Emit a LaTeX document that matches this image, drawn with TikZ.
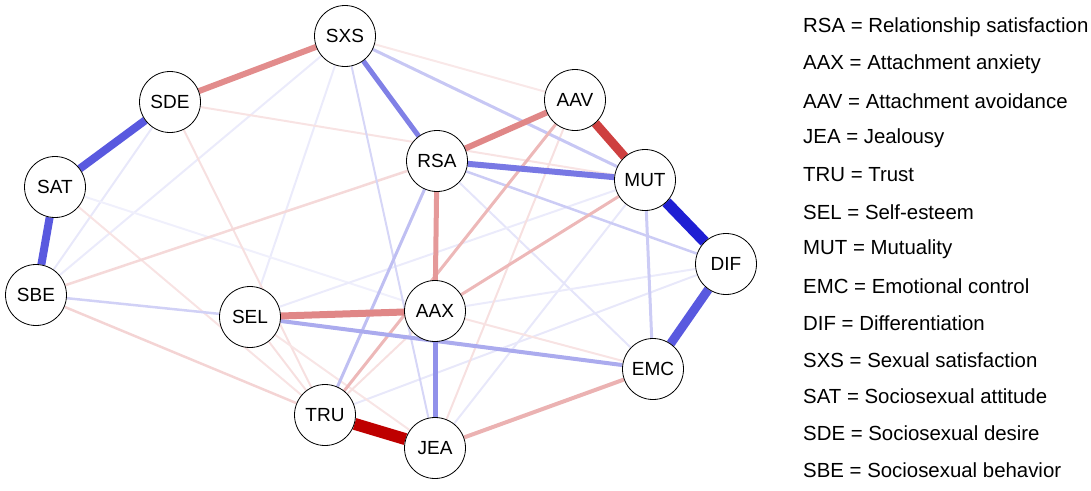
\documentclass[tikz,border=0pt]{standalone}
\usepackage{fontspec}
\setmainfont{Liberation Sans}
\usetikzlibrary{backgrounds}
\definecolor{posc}{RGB}{0,0,205}
\definecolor{negc}{RGB}{190,0,0}
\tikzset{
	var/.style={circle, draw, line width=0.8pt, fill=white, minimum size=61pt, inner sep=0pt, font=\fontsize{19}{19}\selectfont},
	pos/.style={draw=posc!#1!white},
	neg/.style={draw=negc!#1!white},
	key/.style={anchor=west, inner sep=0pt, font=\fontsize{20.4}{20.4}\selectfont},
}
\begin{document}
\begin{tikzpicture}[x=1pt,y=-1pt]
		\useasboundingbox (0,0) rectangle (1091,490);
		% variables
			\node [var] (SXS) at (345,36) {SXS};
			\node [var] (SDE) at (170,102) {SDE};
			\node [var] (SAT) at (55,187) {SAT};
			\node [var] (SBE) at (36,295) {SBE};
			\node [var] (SEL) at (250,317) {SEL};
			\node [var] (RSA) at (437,161) {RSA};
			\node [var] (AAV) at (575,100) {AAV};
			\node [var] (MUT) at (645,180) {MUT};
			\node [var] (DIF) at (726,264) {DIF};
			\node [var] (AAX) at (435,311) {AAX};
			\node [var] (EMC) at (653,369) {EMC};
			\node [var] (TRU) at (325,415) {TRU};
			\node [var] (JEA) at (435,448) {JEA};
		\begin{scope}[on background layer]
		% faint edges
			\draw [pos=9, line width=2pt] (SDE) -- (SBE);
			\draw [pos=8, line width=2pt] (SXS) -- (SBE);
			\draw [pos=8, line width=2pt] (SXS) -- (SEL);
			\draw [pos=6, line width=2pt] (SAT) -- (AAX);
			\draw [pos=9, line width=2pt] (JEA) -- (MUT);
			\draw [pos=9, line width=2pt] (TRU) -- (DIF);
			\draw [pos=10, line width=2pt] (RSA) -- (EMC);
			\draw [pos=8, line width=2pt] (AAX) -- (DIF);
			\draw [pos=8, line width=2pt] (SEL) -- (MUT);
			\draw [neg=11, line width=2pt] (SAT) -- (TRU);
			\draw [neg=11, line width=2pt] (SDE) -- (MUT);
			\draw [neg=12, line width=2pt] (SDE) -- (TRU);
			\draw [neg=9, line width=2pt] (SXS) -- (AAV);
			\draw [neg=12, line width=2pt] (AAV) -- (JEA);
			\draw [neg=11, line width=2pt] (AAX) -- (EMC);
			\draw [neg=12, line width=2pt] (SEL) -- (TRU);
			\draw [neg=10, line width=2pt] (SEL) -- (JEA);
			\draw [neg=12, line width=2pt] (AAX) -- (TRU);
			\draw [neg=15, line width=2.5pt] (SBE) -- (RSA);
			\draw [neg=17, line width=2.5pt] (SBE) -- (TRU);
			\draw [pos=18, line width=2.5pt] (SBE) -- (SEL);
		% weaker edges
			\draw [pos=16, line width=2pt] (SXS) -- (JEA);
			\draw [pos=20, line width=2.5pt] (RSA) -- (DIF);
			\draw [pos=20, line width=3pt] (MUT) -- (EMC);
			\draw [pos=22, line width=3pt] (SXS) -- (MUT);
			\draw [pos=25, line width=3pt] (RSA) -- (TRU);
			\draw [neg=28, line width=3pt] (AAV) -- (TRU);
			\draw [neg=28, line width=3pt] (MUT) -- (AAX);
			\draw [neg=30, line width=4pt] (EMC) -- (JEA);
			\draw [pos=33, line width=4pt] (SEL) -- (EMC);
		% strong edges
			\draw [neg=40, line width=5pt] (RSA) -- (AAX);
			\draw [pos=43, line width=5pt] (AAX) -- (JEA);
			\draw [pos=50, line width=5pt] (SXS) -- (RSA);
			\draw [neg=45, line width=6pt] (SDE) -- (SXS);
			\draw [neg=47, line width=6pt] (RSA) -- (AAV);
			\draw [pos=53, line width=6pt] (RSA) -- (MUT);
			\draw [neg=47, line width=7pt] (SEL) -- (AAX);
			\draw [pos=65, line width=8pt] (SDE) -- (SAT);
			\draw [pos=65, line width=8pt] (SAT) -- (SBE);
			\draw [pos=65, line width=9pt] (DIF) -- (EMC);
			\draw [neg=75, line width=9pt] (AAV) -- (MUT);
			\draw [pos=88, line width=11pt] (MUT) -- (DIF);
			\draw [neg=100, line width=12pt] (TRU) -- (JEA);
		\end{scope}
		% legend
			\node [key] (kRSA) at (803,27) {RSA = Relationship satisfaction};
			\node [key] (kAAX) at (803,64) {AAX = Attachment anxiety};
			\node [key] (kAAV) at (803,101) {AAV = Attachment avoidance};
			\node [key] (kJEA) at (803,138) {JEA = Jealousy};
			\node [key] (kTRU) at (803,175) {TRU = Trust};
			\node [key] (kSEL) at (803,212) {SEL = Self-esteem};
			\node [key] (kMUT) at (803,249) {MUT = Mutuality};
			\node [key] (kEMC) at (803,286) {EMC = Emotional control};
			\node [key] (kDIF) at (803,323) {DIF = Differentiation};
			\node [key] (kSXS) at (803,360) {SXS = Sexual satisfaction};
			\node [key] (kSAT) at (803,396) {SAT = Sociosexual attitude};
			\node [key] (kSDE) at (803,433) {SDE = Sociosexual desire};
			\node [key] (kSBE) at (803,470) {SBE = Sociosexual behavior};
	\end{tikzpicture}
\end{document}
